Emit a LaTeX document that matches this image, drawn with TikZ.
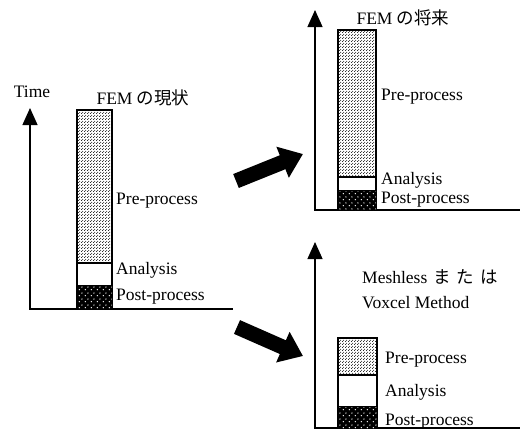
\documentclass[tikz,border=0pt]{standalone}
\usepackage{fontspec}
\setmainfont{Liberation Serif}
\newfontfamily\cjk{Noto Sans CJK JP}
\usepackage{tikz}
\usetikzlibrary{arrows.meta,patterns,patterns.meta}
\tikzdeclarepattern{name=finedots,type=uncolored,
  bounding box={(0,0) and (3pt,3pt)},tile size={(3pt,3pt)},
  code={\fill (0.75pt,0.75pt) circle (0.65pt);\fill (2.25pt,2.25pt) circle (0.65pt);}}
\tikzdeclarepattern{name=sparsedots,type=uncolored,
  bounding box={(0,0) and (6pt,6pt)},tile size={(6pt,6pt)},
  code={\fill (1.5pt,1.5pt) circle (0.8pt);\fill (4.5pt,4.5pt) circle (0.8pt);}}
\tikzset{
  >={Triangle[length=17pt,width=15pt]},
  % achsen
  axis/.style={<-,line width=1.3pt},
  % balken
  bar/.style={draw=black,line width=1.2pt},
  prebar/.style={bar,pattern=finedots,pattern color=black},
  anabar/.style={bar,fill=white},
  postbar/.style={bar,fill=black,postaction={pattern=sparsedots,pattern color=white}},
  lbl/.style={anchor=west,inner sep=0pt,font=\fontsize{17.5}{20}\selectfont},
  ttl/.style={inner sep=0pt,font=\fontsize{17.5}{20}\selectfont},
  % pfeile
  big/.style={-{Triangle[length=22pt,width=32pt]},line width=15pt},
}

\begin{document}
\begin{tikzpicture}[x=1pt,y=-1pt]
\useasboundingbox (0,0) rectangle (525,440);
  % heute
  \coordinate (o1) at (30,309);
  \coordinate (t1) at (30,108);
  \coordinate (e1) at (233,309);
  \draw[axis] (t1) -- (o1) -- (e1);
  \draw[prebar] (77,110) rectangle (112,263);
  \draw[anabar] (77,263) rectangle (112,286);
  \draw[postbar] (77,286) rectangle (112,309);
  \node[ttl] (time) at (32,92) {Time};
  \node[ttl] (fem1) at (143,98) {FEM {\cjk の現状}};
  \node[lbl] (pre1) at (116,201) {Pre-process};
  \node[lbl] (ana1) at (116,270) {Analysis};
  \node[lbl] (post1) at (116,297) {Post-process};
  % zukunft
  \coordinate (o2) at (315,210);
  \coordinate (t2) at (315,10);
  \coordinate (e2) at (520,210);
  \draw[axis] (t2) -- (o2) -- (e2);
  \draw[prebar] (338,30) rectangle (376,177);
  \draw[anabar] (338,177) rectangle (376,191);
  \draw[postbar] (338,191) rectangle (376,210);
  \node[ttl] (fem2) at (403,18) {FEM {\cjk の将来}};
  \node[lbl] (pre2) at (381,97) {Pre-process};
  \node[lbl] (ana2) at (381,180) {Analysis};
  \node[lbl] (post2) at (381,200) {Post-process};
  % meshless
  \coordinate (o3) at (315,428);
  \coordinate (t3) at (315,242);
  \coordinate (e3) at (520,428);
  \draw[axis] (t3) -- (o3) -- (e3);
  \draw[prebar] (338,338) rectangle (377,375);
  \draw[anabar] (338,375) rectangle (377,407);
  \draw[postbar] (338,407) rectangle (377,428);
  \node[lbl] (msh) at (362,277) {Meshless\hspace{6pt}{\cjk ま\hspace{6pt}た\hspace{6pt}は}};
  \node[lbl] (vox) at (362,303) {Voxcel Method};
  \node[lbl] (pre3) at (385,360) {Pre-process};
  \node[lbl] (ana3) at (385,392) {Analysis};
  \node[lbl] (post3) at (385,422) {Post-process};
  % uebergang
  \coordinate (a1) at (236,181);
  \coordinate (b1) at (303,154);
  \coordinate (a2) at (237,327);
  \coordinate (b2) at (303,356);
  \draw[big] (a1) -- (b1);
  \draw[big] (a2) -- (b2);
\end{tikzpicture}
\end{document}
